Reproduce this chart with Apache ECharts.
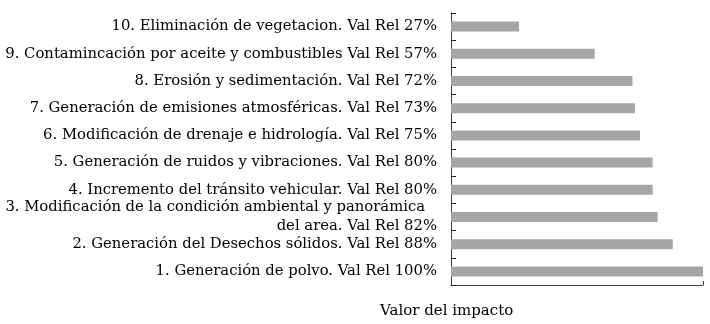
<!DOCTYPE html>
<html><head><meta charset="utf-8">
<script src="https://cdn.jsdelivr.net/npm/echarts@6/dist/echarts.min.js"></script>
<style>html,body{margin:0;padding:0;background:#fff}#c{width:710px;height:324px}</style>
</head><body><div id="c"></div>
<script>
const categories = [
  '10. Eliminación de vegetacion. Val Rel 27%',
  '9. Contamincación por aceite y combustibles Val Rel 57%',
  '8. Erosión y sedimentación. Val Rel 72%',
  '7. Generación de emisiones atmosféricas. Val Rel 73%',
  '6. Modificación de drenaje e hidrología. Val Rel 75%',
  '5. Generación de ruidos y vibraciones. Val Rel 80%',
  '4. Incremento del tránsito vehicular. Val Rel 80%',
  '3. Modificación de la condición ambiental y panorámica\ndel area. Val Rel 82%',
  '2. Generación del Desechos sólidos. Val Rel 88%',
  '1. Generación de polvo. Val Rel 100%'
];
const values = [27, 57, 72, 73, 75, 80, 80, 82, 88, 100];
const axisTitle = 'Valor del impacto';

const chart = echarts.init(document.getElementById('c'));
chart.setOption({
  animation: false,
  grid: {left: 451, right: 7, top: 13, bottom: 39},
  title: {text: axisTitle, left: 375, top: 299,
    textStyle: {fontFamily: 'DejaVu Serif', fontSize: 15, fontWeight: 'normal', color: '#000'}},
  xAxis: {type: 'value', min: 0, max: 100, interval: 100,
    axisLine: {show: true, lineStyle: {color: '#404040', width: 1}},
    axisTick: {show: true, inside: true, length: 4, lineStyle: {color: '#404040'}},
    axisLabel: {show: false}, splitLine: {show: false}},
  yAxis: {type: 'category', data: categories, inverse: true,
    axisLine: {show: true, lineStyle: {color: '#404040', width: 1}},
    axisTick: {show: true, inside: true, length: 5, lineStyle: {color: '#202020'}},
    axisLabel: {margin: 14, color: '#000', fontFamily: 'DejaVu Serif', fontSize: 14.8, lineHeight: 19, align: 'right',
      formatter: function (v) {
        const parts = v.split('\n');
        if (parts.length < 2) return v;
        return '{a|' + parts[0] + '}\n{b|' + parts[1] + '}';
      },
      rich: {
        a: {fontFamily: 'DejaVu Serif', fontSize: 14.8, lineHeight: 19, color: '#000', padding: [0, 12, 0, 0]},
        b: {fontFamily: 'DejaVu Serif', fontSize: 14.8, lineHeight: 19, color: '#000'}
      }},
  },
  series: [{type: 'bar', data: values, barWidth: 10, itemStyle: {color: '#a6a6a6'}}]
});
</script></body></html>
